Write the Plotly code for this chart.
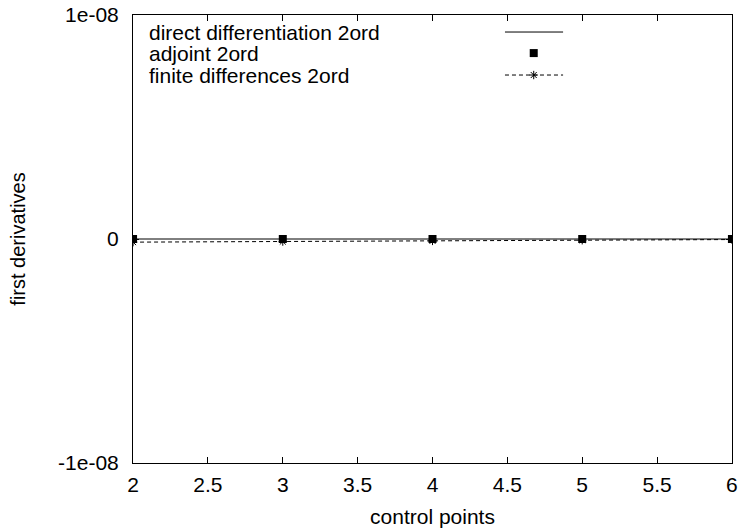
import plotly.graph_objects as go

control_points = [2, 3, 4, 5, 6]
direct_2ord = [0.0, 0.0, 0.0, 0.0, 0.0]
adjoint_2ord = [0.0, 0.0, 0.0, 0.0, 0.0]
finite_diff_2ord = [-1.4e-10, -1.15e-10, -0.85e-10, -0.55e-10, -0.25e-10]

x_ticks = [2, 2.5, 3, 3.5, 4, 4.5, 5, 5.5, 6]
x_tick_text = ["2", "2.5", "3", "3.5", "4", "4.5", "5", "5.5", "6"]
y_ticks = [-1e-8, 0, 1e-8]
y_tick_text = ["-1e-08", "0", "1e-08"]
legend_labels = ["direct differentiation 2ord", "adjoint 2ord", "finite differences 2ord"]

FONT = "Liberation Sans, Arial, sans-serif"
FS = 21

fig = go.Figure()
fig.add_trace(go.Scatter(x=control_points, y=direct_2ord, mode="lines",
                         line=dict(color="black", width=1), showlegend=False))
fig.add_trace(go.Scatter(x=control_points, y=adjoint_2ord, mode="markers",
                         marker=dict(symbol="square", color="black", size=8), showlegend=False))
fig.add_trace(go.Scatter(x=control_points, y=finite_diff_2ord, mode="lines+markers",
                         line=dict(color="black", width=1, dash="4px,3px"),
                         marker=dict(symbol="asterisk-open", size=7, color="black",
                                     line=dict(color="black", width=1)),
                         showlegend=False))

# legend samples on an overlay axis (0..1 spans the plot area)
leg_y = [0.962, 0.915, 0.866]
fig.add_trace(go.Scatter(x=[0.621, 0.718], y=[leg_y[0], leg_y[0]], mode="lines",
                         line=dict(color="black", width=1), xaxis="x2", yaxis="y2",
                         showlegend=False, hoverinfo="skip"))
fig.add_trace(go.Scatter(x=[0.669], y=[leg_y[1]], mode="markers",
                         marker=dict(symbol="square", color="black", size=8),
                         xaxis="x2", yaxis="y2", showlegend=False, hoverinfo="skip"))
fig.add_trace(go.Scatter(x=[0.621, 0.669, 0.718], y=[leg_y[2]] * 3, mode="lines",
                         line=dict(color="black", width=1, dash="4px,3px"),
                         xaxis="x2", yaxis="y2", showlegend=False, hoverinfo="skip"))
fig.add_trace(go.Scatter(x=[0.669], y=[leg_y[2]], mode="markers",
                         marker=dict(symbol="asterisk-open", size=7, color="black",
                                     line=dict(color="black", width=1)),
                         xaxis="x2", yaxis="y2", showlegend=False, hoverinfo="skip"))

for lbl, yy in zip(legend_labels, leg_y):
    fig.add_annotation(x=0.0234, y=yy, xref="paper", yref="paper", text=lbl,
                       showarrow=False, xanchor="left", yanchor="middle",
                       font=dict(family=FONT, size=21, color="black"))

axis_common = dict(showgrid=False, zeroline=False, showline=True, linecolor="black",
                   linewidth=1, mirror="allticks", ticks="inside", ticklen=6,
                   tickcolor="black", tickwidth=1, ticklabeloverflow="allow",
                   automargin=False,
                   tickfont=dict(family=FONT, size=FS, color="black"))

fig.update_layout(
    width=740, height=530,
    margin=dict(l=133, r=8, t=15, b=67),
    paper_bgcolor="white", plot_bgcolor="white",
    xaxis=dict(range=[1.9995, 6.0005], tickvals=x_ticks, ticktext=x_tick_text,
               title=dict(text="control points", font=dict(family=FONT, size=FS, color="black"),
                          standoff=14),
               ticklabelstandoff=3, **axis_common),
    yaxis=dict(range=[-1e-8, 1e-8], tickvals=y_ticks, ticktext=y_tick_text,
               title=dict(text="first derivatives", font=dict(family=FONT, size=20, color="black"),
                          standoff=27),
               ticklabelstandoff=9, **axis_common),
    xaxis2=dict(range=[0, 1], overlaying="x", visible=False, fixedrange=True),
    yaxis2=dict(range=[0, 1], overlaying="y", visible=False, fixedrange=True),
    showlegend=False,
)

# remove the browser's default 8px body margin so the 740x530 figure fills the window
fig.write_html("out.html", config={"displayModeBar": False},
               post_script="document.body.style.margin='0px';")
